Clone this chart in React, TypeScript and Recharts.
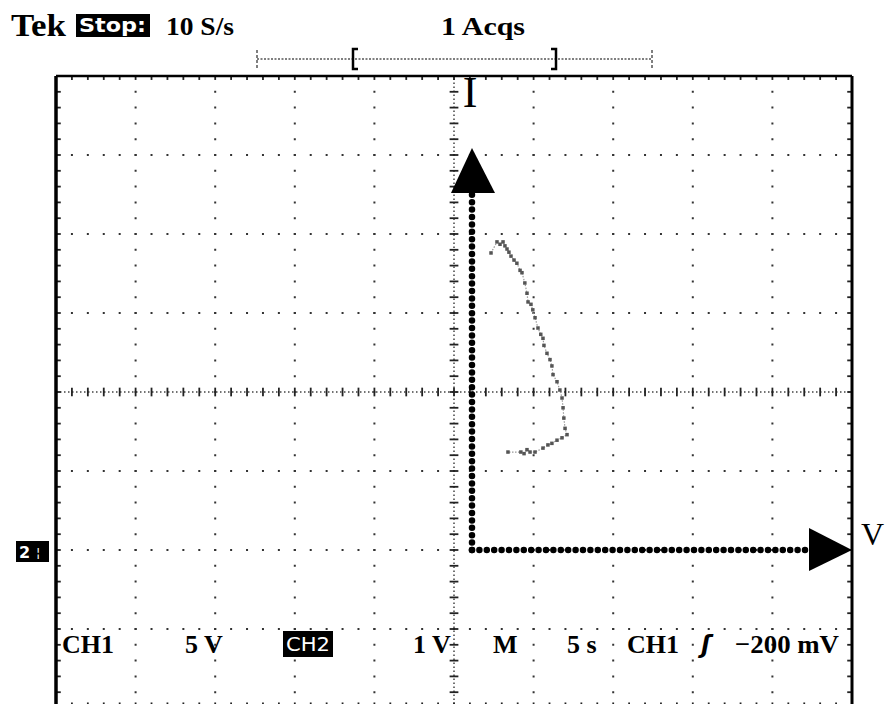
import React from 'react';
import { ScatterChart, XAxis, YAxis, ReferenceLine, ReferenceDot, Scatter } from 'recharts';

// XY trace (CH1 = V on x, CH2 = I on y), in screen divisions
const traceX = [0.465, 0.54, 0.578, 0.616, 0.64, 0.666, 0.69, 0.716, 0.754, 0.79, 0.83, 0.854, 0.89, 0.917, 0.93, 0.967, 0.99, 1.018, 1.055, 1.09, 1.118, 1.13, 1.168, 1.206, 1.23, 1.244, 1.294, 1.33, 1.357, 1.37, 1.38, 1.395, 1.42, 1.357, 1.294, 1.23, 1.18, 1.118, 1.018, 0.955, 0.917, 0.88, 0.84, 0.678];
const traceY = [1.76, 1.9, 1.87, 1.9, 1.85, 1.81, 1.77, 1.72, 1.67, 1.63, 1.54, 1.51, 1.38, 1.25, 1.14, 1.11, 1.04, 0.94, 0.81, 0.73, 0.68, 0.59, 0.49, 0.41, 0.33, 0.22, 0.13, 0.025, -0.076, -0.2, -0.33, -0.46, -0.54, -0.58, -0.61, -0.65, -0.67, -0.71, -0.76, -0.76, -0.73, -0.78, -0.76, -0.76];

// graticule
const gridX = [-4, -3, -2, -1, 1, 2, 3, 4];
const gridY = [-3, -2, -1, 1, 2, 3];
const minorX = Array.from({ length: 49 }, (_, i) => +(-5 + 0.2 * (i + 1)).toFixed(2));
const minorY = Array.from({ length: 39 }, (_, i) => +(-4 + 0.2 * (i + 1)).toFixed(2));

// drawn I / V axes
const axisOriginX = 0.226;
const axisOriginY = -2;
const iArrowTip = 3.09;
const iArrowBase = 2.53;
const vArrowTip = 5;
const vArrowBase = 4.46;

const topTexts = ['Tek', 'Stop:', '10 S/s', '1 Acqs'];
const bottomTexts = ['CH1', '5 V', 'CH2', '1 V', 'M', '5 s', 'CH1', 'ʃ', '−200 mV'];

const traceData = traceX.map((x, i) => ({ x, y: traceY[i] }));

const serif = '"Liberation Serif", "Times New Roman", serif';
const sans = '"DejaVu Sans", sans-serif';

const W = 886;
const H = 720;
const M = { top: 76, left: 56, right: 34, bottom: 12 };

export default function App() {
  const hPitch = (W - M.left - M.right) / 50;
  const vPitch = (H - M.top - M.bottom) / 40;
  const lines: React.ReactNode[] = [];
  gridX.forEach((v) =>
    lines.push(
      <ReferenceLine key={'gx' + v} x={v} stroke="#333" strokeWidth={2} strokeDasharray={`2 ${vPitch - 2}`} strokeDashoffset={1} ifOverflow="visible" />
    )
  );
  gridY.forEach((v) =>
    lines.push(
      <ReferenceLine key={'gy' + v} y={v} stroke="#333" strokeWidth={2} strokeDasharray={`2 ${hPitch - 2}`} strokeDashoffset={1} ifOverflow="visible" />
    )
  );
  // center lines
  lines.push(<ReferenceLine key="cx" x={0} stroke="#444" strokeWidth={1.5} strokeDasharray="1.5 2.5" ifOverflow="visible" />);
  lines.push(<ReferenceLine key="cy" y={0} stroke="#444" strokeWidth={1.5} strokeDasharray="1.5 2.5" ifOverflow="visible" />);
  minorX.forEach((v) => {
    lines.push(<ReferenceLine key={'tcx' + v} segment={[{ x: v, y: -0.055 }, { x: v, y: 0.055 }]} stroke="#222" strokeWidth={1.8} ifOverflow="visible" />);
    lines.push(<ReferenceLine key={'ttx' + v} segment={[{ x: v, y: 4 }, { x: v, y: 3.95 }]} stroke="#222" strokeWidth={1.8} ifOverflow="visible" />);
    lines.push(<ReferenceLine key={'tbx' + v} segment={[{ x: v, y: -4 }, { x: v, y: -3.93 }]} stroke="#222" strokeWidth={1.8} ifOverflow="visible" />);
  });
  minorY.forEach((v) => {
    lines.push(<ReferenceLine key={'tcy' + v} segment={[{ x: -0.055, y: v }, { x: 0.055, y: v }]} stroke="#222" strokeWidth={1.8} ifOverflow="visible" />);
    lines.push(<ReferenceLine key={'tly' + v} segment={[{ x: -5, y: v }, { x: -4.94, y: v }]} stroke="#222" strokeWidth={1.8} ifOverflow="visible" />);
    lines.push(<ReferenceLine key={'try' + v} segment={[{ x: 5, y: v }, { x: 4.94, y: v }]} stroke="#222" strokeWidth={1.8} ifOverflow="visible" />);
  });

  return (
    <div style={{ position: 'absolute', left: 0, top: 0, width: 886, height: 704, overflow: 'hidden', background: '#fff' }}>
      <ScatterChart width={W} height={H} margin={M}>
        <XAxis type="number" dataKey="x" domain={[-5, 5]} hide />
        <YAxis type="number" dataKey="y" domain={[-4, 4]} hide />
        {lines}
        {/* frame */}
        <ReferenceLine x={-5} stroke="#000" strokeWidth={3.5} ifOverflow="visible" />
        <ReferenceLine x={5} stroke="#000" strokeWidth={3} ifOverflow="visible" />
        <ReferenceLine y={4} stroke="#000" strokeWidth={2.5} ifOverflow="visible" />
        <ReferenceLine y={-4} stroke="#000" strokeWidth={3} ifOverflow="visible" />
        {/* drawn I and V axes */}
        <ReferenceLine
          segment={[{ x: axisOriginX, y: axisOriginY }, { x: axisOriginX, y: iArrowBase }]}
          stroke="#000" strokeWidth={6.5} strokeDasharray="0 7.4" strokeLinecap="round" ifOverflow="visible"
        />
        <ReferenceLine
          segment={[{ x: axisOriginX, y: axisOriginY }, { x: vArrowBase, y: axisOriginY }]}
          stroke="#000" strokeWidth={6.5} strokeDasharray="0 7.4" strokeLinecap="round" ifOverflow="visible"
        />
        <ReferenceDot
          x={axisOriginX} y={iArrowTip} r={0} ifOverflow="visible"
          shape={(p: any) => (
            <polygon points={`${p.cx},${p.cy} ${p.cx - 21},${p.cy + 45} ${p.cx + 23},${p.cy + 45}`} fill="#000" />
          )}
        />
        <ReferenceDot
          x={vArrowTip} y={axisOriginY} r={0} ifOverflow="visible"
          shape={(p: any) => (
            <polygon points={`${p.cx},${p.cy} ${p.cx - 43},${p.cy - 22} ${p.cx - 43},${p.cy + 21}`} fill="#000" />
          )}
        />
        <Scatter
          data={traceData}
          isAnimationActive={false}
          line={{ stroke: '#999', strokeWidth: 1.2, strokeDasharray: '1.5 1.5' }}
          shape={(p: any) => <rect x={p.cx - 1.75} y={p.cy - 1.75} width={3.5} height={3.5} fill="#555" />}
        />
      </ScatterChart>
      <svg width={886} height={704} style={{ position: 'absolute', left: 0, top: 0, pointerEvents: 'none' }}>
        {/* header */}
        <text x={11} y={36} fontFamily={serif} fontWeight="bold" fontSize={32} textLength={55} lengthAdjust="spacingAndGlyphs">{topTexts[0]}</text>
        <rect x={76} y={14} width={74} height={23} fill="#000" />
        <text x={79} y={32} fontFamily={sans} fontWeight="bold" fontSize={19} fill="#fff" textLength={67} lengthAdjust="spacingAndGlyphs">{topTexts[1]}</text>
        <text x={166} y={35} fontFamily={serif} fontWeight="bold" fontSize={26} textLength={68} lengthAdjust="spacingAndGlyphs">{topTexts[2]}</text>
        <text x={441} y={35} fontFamily={serif} fontWeight="bold" fontSize={26} textLength={84} lengthAdjust="spacingAndGlyphs">{topTexts[3]}</text>
        {/* record bar */}
        <line x1={257} y1={59} x2={652} y2={59} stroke="#555" strokeWidth={1.5} strokeDasharray="2 1.5" />
        <line x1={257} y1={50} x2={257} y2={68} stroke="#555" strokeWidth={1.5} strokeDasharray="3 2" />
        <line x1={652} y1={50} x2={652} y2={68} stroke="#555" strokeWidth={1.5} strokeDasharray="3 2" />
        <path d="M358,49 L353,49 L353,69 L358,69" stroke="#000" strokeWidth={2.5} fill="none" />
        <path d="M551,49 L556,49 L556,69 L551,69" stroke="#000" strokeWidth={2.5} fill="none" />
        {/* I marker and V label */}
        <text x={470} y={107} textAnchor="middle" fontFamily={serif} fontSize={44}>I</text>
        <text x={861} y={545} fontFamily={serif} fontSize={32}>V</text>
        {/* CH2 ground marker */}
        <rect x={16} y={541} width={33} height={21} fill="#000" />
        <text x={19} y={558} fontFamily={sans} fontWeight="bold" fontSize={16} fill="#fff">2</text>
        <text x={36} y={557} fontFamily={sans} fontSize={13} fill="#fff">¦</text>
        {/* bottom readout */}
        <text x={62} y={653} fontFamily={serif} fontWeight="bold" fontSize={26}>{bottomTexts[0]}</text>
        <text x={185} y={653} fontFamily={serif} fontWeight="bold" fontSize={26}>{bottomTexts[1]}</text>
        <rect x={283} y={631} width={50} height={26} fill="#000" />
        <text x={286} y={651} fontFamily={sans} fontSize={19} fill="#fff" textLength={44} lengthAdjust="spacingAndGlyphs">{bottomTexts[2]}</text>
        <text x={413} y={653} fontFamily={serif} fontWeight="bold" fontSize={26}>{bottomTexts[3]}</text>
        <text x={493} y={653} fontFamily={serif} fontWeight="bold" fontSize={26}>{bottomTexts[4]}</text>
        <text x={567} y={653} fontFamily={serif} fontWeight="bold" fontSize={26}>{bottomTexts[5]}</text>
        <text x={627} y={653} fontFamily={serif} fontWeight="bold" fontSize={26}>{bottomTexts[6]}</text>
        <text x={701} y={653} fontFamily={sans} fontWeight="bold" fontStyle="italic" fontSize={24}>{bottomTexts[7]}</text>
        <text x={735} y={653} fontFamily={serif} fontWeight="bold" fontSize={26} textLength={104} lengthAdjust="spacingAndGlyphs">{bottomTexts[8]}</text>
      </svg>
    </div>
  );
}
